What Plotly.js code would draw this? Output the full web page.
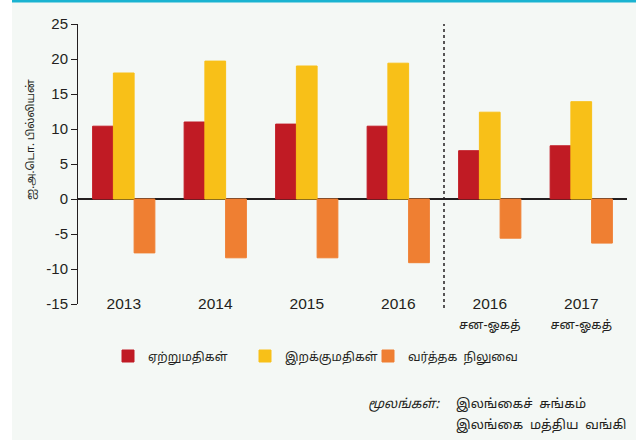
<!DOCTYPE html>
<html>
<head>
<meta charset="utf-8">
<script src="https://cdn.plot.ly/plotly-3.0.1.min.js"></script>
<style>
  html, body { margin: 0; padding: 0; background: #ffffff; }
  #chart { width: 640px; height: 440px; }
</style>
</head>
<body>
<div id="chart"></div>
<script>
// ---- data ----
const categories = ['2013', '2014', '2015', '2016', '2016', '2017'];
const subLabels = ['', '', '', '', 'சன-ஓகத்', 'சன-ஓகத்'];
const exportsVals = [10.4, 11.0, 10.7, 10.4, 6.9, 7.6];
const importsVals = [18.0, 19.7, 19.0, 19.4, 12.4, 13.9];
const balanceVals = [-7.7, -8.4, -8.4, -9.1, -5.6, -6.3];
const seriesNames = ['ஏற்றுமதிகள்', 'இறக்குமதிகள்', 'வர்த்தக  நிலுவை'];
const yTickVals = [-15, -10, -5, 0, 5, 10, 15, 20, 25];
const yTitle = 'ஐ.அ.டொ. பில்லியன்';
const sourceLabel = 'மூலங்கள்:';
const sourceLines = ['இலங்கைச்  சுங்கம்', 'இலங்கை  மத்திய  வங்கி'];

// ---- layout helpers ----
const L = 78, R = 627, T = 24, B = 304;
const W = R - L, H = B - T;
const px = v => (v - L) / W;
const py = v => (B - v) / H;

const xIdx = categories.map((_, i) => i);
const tickText = categories.map((c, i) =>
  subLabels[i] ? c + "<br><span style='font-size:12.5px;font-family:Noto Sans Tamil, Noto Sans, sans-serif'>" + subLabels[i] + "</span>" : c);
const boundaryTicks = categories.map((_, i) => i + 0.5);
const yTickText = yTickVals.map(v => String(v));

const colors = ['#c01b24', '#f8c018', '#ef7f32'];
const vals = [exportsVals, importsVals, balanceVals];
const legendIds = ['legend', 'legend2', 'legend3'];
const legendX = [108, 245, 368];

const textFont = 'Noto Sans Tamil, Noto Sans, Liberation Sans, sans-serif';

const traces = vals.map((v, k) => ({
  type: 'bar',
  x: xIdx,
  y: v,
  name: seriesNames[k],
  legend: legendIds[k],
  marker: { color: colors[k], line: { width: 1, color: colors[k] } },
  hoverinfo: 'skip'
}));

const layout = {
  width: 640, height: 440,
  margin: { l: L, r: 640 - R, t: T, b: 440 - B },
  paper_bgcolor: '#ffffff',
  plot_bgcolor: 'rgba(0,0,0,0)',
  barmode: 'group',
  bargap: 0.32,
  bargroupgap: 0,
  showlegend: true,
  xaxis: {
    range: [-0.5, 5.5],
    tickmode: 'array',
    tickvals: xIdx,
    ticktext: tickText,
    ticks: '',
    showline: false,
    showgrid: false,
    zeroline: false,
    anchor: 'free',
    position: py(292),
    tickfont: { family: 'Liberation Sans, Arial, sans-serif', size: 15.5, color: '#231f20' },
    fixedrange: true
  },
  xaxis2: {
    overlaying: 'x',
    range: [-0.5, 5.5],
    anchor: 'free',
    position: py(199),
    tickmode: 'array',
    tickvals: boundaryTicks,
    ticks: 'outside',
    ticklen: 6,
    tickwidth: 1.5,
    tickcolor: '#231f20',
    showticklabels: false,
    showline: true,
    linecolor: '#231f20',
    linewidth: 1.5,
    showgrid: false,
    zeroline: false
  },
  yaxis: {
    range: [-15, 25],
    tickmode: 'array',
    tickvals: yTickVals,
    ticktext: yTickText,
    ticks: 'outside',
    ticklen: 6,
    tickwidth: 1,
    tickcolor: '#231f20',
    showline: true,
    linecolor: '#231f20',
    linewidth: 1,
    showgrid: false,
    zeroline: true,
    zerolinecolor: '#231f20',
    zerolinewidth: 1.5,
    tickfont: { family: 'Liberation Sans, Arial, sans-serif', size: 15, color: '#231f20' },
    fixedrange: true
  },
  shapes: [
    { type: 'rect', xref: 'paper', yref: 'paper', layer: 'below',
      x0: px(12), x1: px(636), y0: py(440), y1: py(0),
      fillcolor: '#f4f8f5', line: { width: 0 } },
    { type: 'rect', xref: 'paper', yref: 'paper', layer: 'above',
      x0: px(12), x1: px(636), y0: py(2.5), y1: py(0),
      fillcolor: '#1ab3d1', line: { width: 0 } },
    { type: 'line', xref: 'x', yref: 'paper',
      x0: 3.5, x1: 3.5, y0: py(308), y1: 1,
      line: { color: '#231f20', width: 1.5, dash: 'dot' } }
  ],
  annotations: [
    { text: yTitle, textangle: -90, xref: 'paper', yref: 'paper',
      x: px(31), y: py(140), xanchor: 'center', yanchor: 'middle', showarrow: false,
      font: { family: textFont, size: 11, color: '#231f20' } },
    { text: '<i>' + sourceLabel + '</i>', xref: 'paper', yref: 'paper',
      x: px(442), y: py(405), xanchor: 'right', yanchor: 'middle', showarrow: false,
      font: { family: textFont, size: 13, color: '#231f20' } },
    { text: sourceLines[0], xref: 'paper', yref: 'paper',
      x: px(454), y: py(405), xanchor: 'left', yanchor: 'middle', showarrow: false,
      font: { family: textFont, size: 13, color: '#231f20' } },
    { text: sourceLines[1], xref: 'paper', yref: 'paper',
      x: px(454), y: py(426), xanchor: 'left', yanchor: 'middle', showarrow: false,
      font: { family: textFont, size: 13, color: '#231f20' } }
  ]
};

legendIds.forEach((id, k) => {
  layout[id] = {
    orientation: 'h',
    x: px(legendX[k]), xanchor: 'left',
    y: py(356), yanchor: 'middle',
    font: { family: textFont, size: 12, color: '#231f20' },
    bgcolor: 'rgba(0,0,0,0)',
    itemwidth: 30
  };
});

Plotly.newPlot('chart', traces, layout, { displayModeBar: false, staticPlot: true });
</script>
</body>
</html>
